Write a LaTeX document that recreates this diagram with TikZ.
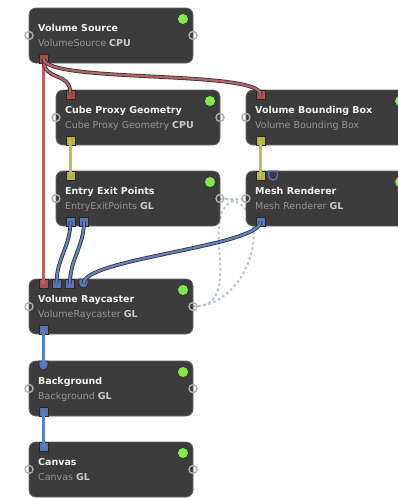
\documentclass[tikz,border=0pt]{standalone}
\usepackage{fontspec}
\setmainfont{DejaVu Sans}
\usetikzlibrary{backgrounds}
\definecolor{boxfill}{RGB}{60,60,60}
\definecolor{boxborder}{RGB}{100,100,100}
\definecolor{titlec}{RGB}{242,242,242}
\definecolor{subc}{RGB}{150,150,150}
\definecolor{tagc}{RGB}{205,205,205}
\definecolor{greenc}{RGB}{135,230,75}
\definecolor{ringc}{RGB}{175,175,175}
\definecolor{portdark}{RGB}{40,40,40}
\definecolor{linedark}{RGB}{50,50,55}
\definecolor{redc}{RGB}{180,100,100}
\definecolor{yelc}{RGB}{190,188,95}
\definecolor{bluc}{RGB}{98,128,192}
\definecolor{portred}{RGB}{168,80,80}
\definecolor{portyel}{RGB}{182,178,75}
\definecolor{portblu}{RGB}{88,118,182}
\definecolor{linkc}{RGB}{180,198,212}
\tikzset{
  procbox/.style={draw=boxborder, line width=0.8pt, fill=boxfill, rounded corners=7pt,
    minimum width=164pt, minimum height=55pt, inner sep=0pt, outer sep=0pt, anchor=north west},
  ttl/.style={anchor=base west, inner sep=0pt, text=titlec, font=\fontsize{9.5}{11}\selectfont\bfseries},
  sub/.style={anchor=base west, inner sep=0pt, text=subc, font=\fontsize{9.5}{11}\selectfont},
  gdot/.style={circle, fill=greenc, minimum size=10pt, inner sep=0pt},
  ring/.style={circle, draw=ringc, line width=1.4pt, minimum size=8pt, inner sep=0pt},
  sq/.style={rectangle, draw=portdark, line width=0.7pt, fill=#1, minimum size=9pt, inner sep=0pt},
  conn/.style={draw=#1, line width=2.2pt, preaction={draw=linedark, line width=3.8pt}},
  link/.style={draw=linkc, line width=2pt, dash pattern=on 2.6pt off 2.6pt},
}
\newcommand\procnode[5]{%
  \node[procbox] (#1) at (#2,#3) {};
  \node[ttl] (#1t) at ([xshift=9pt,yshift=-23pt]#1.north west) {#4};
  \node[sub] (#1s) at ([xshift=9pt,yshift=-38pt]#1.north west) {#5};
  \node[gdot] (#1d) at ([xshift=-10pt,yshift=-11pt]#1.north east) {};
  \node[ring] (#1L) at (#1.west) {};
  \node[ring] (#1R) at (#1.east) {};
}
\newcommand\tagtxt[1]{\textcolor{tagc}{\bfseries #1}}
% U-shaped port (flat top, round bottom): name, position, style
\newcommand\uport[3]{%
  \coordinate (#1) at #2;
  \draw[#3] ([shift={(-4.5pt,4.5pt)}]#1) -- ([shift={(4.5pt,4.5pt)}]#1) -- ([shift={(4.5pt,0pt)}]#1)
     .. controls ([shift={(4.5pt,-2.485pt)}]#1) and ([shift={(2.485pt,-4.5pt)}]#1) .. ([shift={(0pt,-4.5pt)}]#1)
     .. controls ([shift={(-2.485pt,-4.5pt)}]#1) and ([shift={(-4.5pt,-2.485pt)}]#1) .. ([shift={(-4.5pt,0pt)}]#1)
     -- cycle;
}
\begin{document}
\begin{tikzpicture}[x=1pt, y=-1pt]
\useasboundingbox (0,0) rectangle (398,498);
\clip (0,0) rectangle (398,498);

\procnode{vs}{29}{8}{Volume Source}{VolumeSource \tagtxt{CPU}}
\procnode{cpg}{56}{90}{Cube Proxy Geometry}{Cube Proxy Geometry \tagtxt{CPU}}
\procnode{vbb}{246}{90}{Volume Bounding Box}{Volume Bounding Box}
\procnode{eep}{56}{171}{Entry Exit Points}{EntryExitPoints \tagtxt{GL}}
\procnode{mr}{246}{171}{Mesh Renderer}{Mesh Renderer \tagtxt{GL}}
\procnode{vr}{29}{279}{Volume Raycaster}{VolumeRaycaster \tagtxt{GL}}
\procnode{bg}{29}{361}{Background}{Background \tagtxt{GL}}
\procnode{cv}{29}{442}{Canvas}{Canvas \tagtxt{GL}}

% ports
\node[sq=portred] (vso) at ([xshift=14.5pt,yshift=4.5pt]vs.south west) {};
\node[sq=portred] (cpgi) at ([xshift=14.5pt,yshift=-4.5pt]cpg.north west) {};
\node[sq=portyel] (cpgo) at ([xshift=14.5pt,yshift=4.5pt]cpg.south west) {};
\node[sq=portred] (vbbi) at ([xshift=14.5pt,yshift=-4.5pt]vbb.north west) {};
\node[sq=portyel] (vbbo) at ([xshift=14.5pt,yshift=4.5pt]vbb.south west) {};
\node[sq=portyel] (eepi) at ([xshift=14.5pt,yshift=-4.5pt]eep.north west) {};
\node[sq=portblu] (eepo1) at ([xshift=14.5pt,yshift=4.5pt]eep.south west) {};
\node[sq=portblu] (eepo2) at ([xshift=28pt,yshift=4.5pt]eep.south west) {};
\node[sq=portyel] (mri1) at ([xshift=14.5pt,yshift=-4.5pt]mr.north west) {};
\uport{mri2}{([xshift=27pt,yshift=-4.5pt]mr.north west)}{draw=portblu, fill=boxfill, line width=1.4pt}
\node[sq=portblu] (mro) at ([xshift=14.5pt,yshift=4.5pt]mr.south west) {};
\node[sq=portred] (vri1) at ([xshift=14.5pt,yshift=-4.5pt]vr.north west) {};
\node[sq=portblu] (vri2) at ([xshift=27.5pt,yshift=-4.5pt]vr.north west) {};
\node[sq=portblu] (vri3) at ([xshift=41pt,yshift=-4.5pt]vr.north west) {};
\uport{vri4}{([xshift=54.5pt,yshift=-4.5pt]vr.north west)}{draw=portdark, fill=portblu, line width=0.7pt}
\node[sq=portblu] (vro) at ([xshift=14.5pt,yshift=4.5pt]vr.south west) {};
\uport{bgi}{([xshift=14.5pt,yshift=-4.5pt]bg.north west)}{draw=portdark, fill=portblu, line width=0.7pt}
\node[sq=portblu] (bgo) at ([xshift=14.5pt,yshift=4.5pt]bg.south west) {};
\node[sq=portblu] (cvi) at ([xshift=14.5pt,yshift=-4.5pt]cv.north west) {};

% connections
\draw[conn=redc] (vso.center) -- (vri1.center);
\draw[conn=redc] (vso.center) .. controls +(0,25) and +(0,-25) .. (cpgi.center);
\draw[conn=redc] (vso.center) .. controls +(0,25) and +(0,-25) .. (vbbi.center);
\draw[conn=yelc] (cpgo.center) -- (eepi.center);
\draw[conn=yelc] (vbbo.center) -- (mri1.center);
\draw[conn=bluc] (eepo1.center) .. controls +(0,25) and +(0,-25) .. (vri2.center);
\draw[conn=bluc] (eepo2.center) .. controls +(0,25) and +(0,-25) .. (vri3.center);
\draw[conn=bluc] (mro.center) .. controls +(0,25) and +(0,-25) .. (vri4);
\draw[conn=bluc] (vro.center) -- (bgi);
\draw[conn=bluc] (bgo.center) -- (cvi.center);

% property links
\begin{scope}[on background layer]
\draw[link] (vrR.center) .. controls +(60,0) and +(-60,0) .. (mrL.center);
\draw[link] (vrR.center) .. controls +(60,0) and +(60,0) .. (eepR.center);
\draw[link] (eepR.center) -- (mrL.center);
\end{scope}
\end{tikzpicture}
\end{document}
